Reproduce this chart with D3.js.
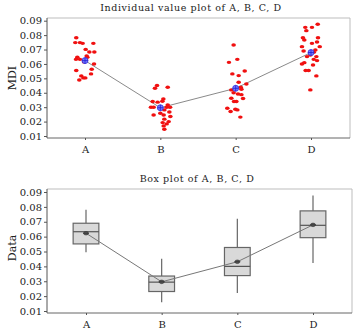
<!DOCTYPE html>
<html>
<head>
<meta charset="utf-8">
<script src="https://cdn.jsdelivr.net/npm/d3@7"></script>
<style>
  body { margin: 0; background: #fff; }
  text { font-family: "DejaVu Serif", serif; fill: #222; }
</style>
</head>
<body>
<script>
const categories = ['A', 'B', 'C', 'D'],
  yTicks = [0.01, 0.02, 0.03, 0.04, 0.05, 0.06, 0.07, 0.08, 0.09];

// individual values: [jitter (category units), value]
const pointsA = [[-0.116, 0.0782], [-0.129, 0.0748], [-0.067, 0.0748], [-0.031, 0.0743], [0.111, 0.0743],
  [0.009, 0.0701], [0.058, 0.0683], [0.124, 0.0683], [-0.102, 0.0646], [-0.12, 0.0632], [-0.067, 0.0632],
  [0.031, 0.0646], [0.013, 0.0627], [-0.013, 0.0614], [0.12, 0.060], [-0.116, 0.0554], [0.089, 0.0563],
  [0.08, 0.0531], [-0.049, 0.0517], [-0.022, 0.0503], [0.004, 0.0503], [-0.076, 0.0489], [0.022, 0.0655]];
const pointsB = [[-0.071, 0.0431], [-0.044, 0.045], [0.098, 0.0438], [0.04, 0.0357], [0.027, 0.0341],
  [-0.102, 0.0339], [-0.036, 0.0335], [0.098, 0.0316], [-0.124, 0.030], [-0.089, 0.030], [0.084, 0.030],
  [0.129, 0.030], [0.053, 0.0281], [0.12, 0.0267], [-0.089, 0.0246], [0.044, 0.0246], [0.133, 0.0235],
  [0.053, 0.0217], [0.111, 0.020], [0.031, 0.0193], [0.084, 0.0184], [0.044, 0.017], [0.053, 0.0147], [0.0, 0.0258]];
const pointsC = [[-0.027, 0.0731], [-0.089, 0.0611], [0.022, 0.0632], [-0.044, 0.0531], [0.04, 0.0519],
  [0.12, 0.0551], [0.04, 0.0473], [0.142, 0.0461], [0.067, 0.0438], [0.076, 0.0424], [-0.058, 0.042],
  [-0.027, 0.040], [0.031, 0.0391], [0.076, 0.0387], [-0.058, 0.0362], [0.098, 0.036], [-0.022, 0.0339],
  [0.009, 0.0339], [-0.111, 0.0293], [-0.067, 0.027], [-0.004, 0.0286], [0.022, 0.0281], [0.062, 0.0231]];
const pointsD = [[-0.076, 0.0854], [-0.062, 0.0831], [0.013, 0.0854], [0.089, 0.0875], [-0.107, 0.0782],
  [0.093, 0.0782], [-0.089, 0.0766], [0.08, 0.0752], [0.013, 0.0743], [-0.12, 0.072], [0.116, 0.072],
  [-0.098, 0.069], [0.058, 0.0697], [0.036, 0.0681], [-0.009, 0.0662], [-0.053, 0.0651], [0.071, 0.0651],
  [-0.089, 0.0609], [-0.12, 0.060], [0.036, 0.0632], [0.08, 0.0623], [-0.071, 0.0554], [-0.031, 0.0554],
  [0.027, 0.0593], [0.071, 0.0517], [-0.009, 0.042]];
const points = [pointsA, pointsB, pointsC, pointsD];

// box plot summaries
const means = [0.0623, 0.0296, 0.0431, 0.0679],
  whiskerLow = [0.0495, 0.0158, 0.0221, 0.0423],
  q1 = [0.0551, 0.0231, 0.0338, 0.0593],
  median = [0.0633, 0.0294, 0.0400, 0.0676],
  q3 = [0.0690, 0.0335, 0.0527, 0.0773],
  whiskerHigh = [0.0780, 0.0451, 0.0721, 0.0876];

const width = 355, height = 329;

const svg = d3.select('body').append('svg')
  .attr('width', width)
  .attr('height', height);

function panel(frame, yRange, xRange, title, titleX, titleY, yLabel, yLabelY) {
  const x = d3.scaleLinear().domain([0, 3]).range(xRange);
  const y = d3.scaleLinear().domain([0.01, 0.09]).range(yRange);
  const g = svg.append('g');

  // top & right border (light)
  g.append('path')
    .attr('d', `M${frame.left},${frame.top}H${frame.right}V${frame.bottom}`)
    .attr('fill', 'none').attr('stroke', '#bdbdbd').attr('stroke-width', 1);

  const yAxis = g.append('g')
    .attr('transform', `translate(${frame.left},0)`)
    .call(d3.axisLeft(y).tickValues(yTicks).tickFormat(d3.format('.2f')).tickSize(3).tickSizeOuter(0));
  yAxis.select('.domain').attr('d', `M0,${frame.top}V${frame.bottom}`).attr('stroke', '#555');
  yAxis.selectAll('.tick line').attr('stroke', '#555');
  yAxis.selectAll('.tick text').attr('x', -5).style('font-size', '10px').style('font-family', '"DejaVu Serif", serif').attr('fill', '#222');

  const xAxis = g.append('g')
    .attr('transform', `translate(0,${frame.bottom})`)
    .call(d3.axisBottom(x).tickValues([0, 1, 2, 3]).tickFormat(i => categories[i]).tickSize(2).tickSizeOuter(0));
  xAxis.select('.domain').attr('d', `M${frame.left},0H${frame.right}`).attr('stroke', '#666');
  xAxis.selectAll('.tick line').attr('stroke', '#555');
  xAxis.selectAll('.tick text').attr('y', 8).style('font-size', '10px').style('font-family', '"DejaVu Serif", serif').attr('fill', '#222');

  g.append('text')
    .attr('x', titleX)
    .attr('y', titleY)
    .attr('text-anchor', 'middle')
    .style('font-size', '9.5px')
    .style('letter-spacing', '0.6px')
    .text(title);

  g.append('text')
    .attr('transform', `translate(16,${yLabelY}) rotate(-90)`)
    .attr('text-anchor', 'middle')
    .style('font-size', '11px')
    .text(yLabel);

  return { g, x, y };
}

// ---- individual value plot ----
const upper = panel({ left: 47, right: 350, top: 18, bottom: 138 }, [136, 20.7], [85, 311],
  'Individual value plot of A, B, C, D', 191, 11, 'MDI', 78);

upper.g.append('path')
  .datum(means)
  .attr('fill', 'none')
  .attr('stroke', '#8a8a8a')
  .attr('stroke-width', 1)
  .attr('d', d3.line().x((d, i) => upper.x(i)).y(d => upper.y(d)));

upper.g.selectAll('g.grp')
  .data(points)
  .enter().append('g')
  .selectAll('ellipse')
  .data((d, i) => d.map(p => [i + p[0], p[1]]))
  .enter().append('ellipse')
  .attr('cx', d => upper.x(d[0]))
  .attr('cy', d => upper.y(d[1]))
  .attr('rx', 2.3)
  .attr('ry', 1.7)
  .attr('fill', '#f01010');

const meanUpper = upper.g.selectAll('g.mean')
  .data(means)
  .enter().append('g')
  .attr('transform', (d, i) => `translate(${upper.x(i)},${upper.y(d)})`);
meanUpper.append('circle').attr('r', 3).attr('fill', '#7a7aff').attr('stroke', '#3030e0').attr('stroke-width', 0.8);
meanUpper.append('path').attr('d', 'M-3,0H3M0,-3V3').attr('stroke', '#2020d0').attr('stroke-width', 0.8);

// ---- box plot ----
const lower = panel({ left: 47, right: 352, top: 189, bottom: 313 }, [311, 192], [86, 313],
  'Box plot of A, B, C, D', 197, 182, 'Data', 248);

const half = 0.17;
const boxes = lower.g.selectAll('g.box')
  .data(categories)
  .enter().append('g');

boxes.append('line')
  .attr('x1', (d, i) => lower.x(i)).attr('x2', (d, i) => lower.x(i))
  .attr('y1', (d, i) => lower.y(whiskerHigh[i])).attr('y2', (d, i) => lower.y(q3[i]))
  .attr('stroke', '#666').attr('stroke-width', 1.2);
boxes.append('line')
  .attr('x1', (d, i) => lower.x(i)).attr('x2', (d, i) => lower.x(i))
  .attr('y1', (d, i) => lower.y(q1[i])).attr('y2', (d, i) => lower.y(whiskerLow[i]))
  .attr('stroke', '#666').attr('stroke-width', 1.2);
boxes.append('rect')
  .attr('x', (d, i) => lower.x(i - half))
  .attr('width', (d, i) => lower.x(i + half) - lower.x(i - half))
  .attr('y', (d, i) => lower.y(q3[i]))
  .attr('height', (d, i) => lower.y(q1[i]) - lower.y(q3[i]))
  .attr('fill', '#d9d9d9')
  .attr('stroke', '#666')
  .attr('stroke-width', 1.2);
boxes.append('line')
  .attr('x1', (d, i) => lower.x(i - half)).attr('x2', (d, i) => lower.x(i + half))
  .attr('y1', (d, i) => lower.y(median[i])).attr('y2', (d, i) => lower.y(median[i]))
  .attr('stroke', '#555').attr('stroke-width', 1.2);

lower.g.append('path')
  .datum(means)
  .attr('fill', 'none')
  .attr('stroke', '#777')
  .attr('stroke-width', 1)
  .attr('d', d3.line().x((d, i) => lower.x(i)).y(d => lower.y(d)));

const meanLower = lower.g.selectAll('g.mean')
  .data(means)
  .enter().append('g')
  .attr('transform', (d, i) => `translate(${lower.x(i)},${lower.y(d)})`);
meanLower.append('ellipse').attr('rx', 2.4).attr('ry', 1.8).attr('fill', '#555').attr('stroke', '#333').attr('stroke-width', 0.6);
meanLower.append('path').attr('d', 'M-3,0H3').attr('stroke', '#333').attr('stroke-width', 0.8);
</script>
</body>
</html>
